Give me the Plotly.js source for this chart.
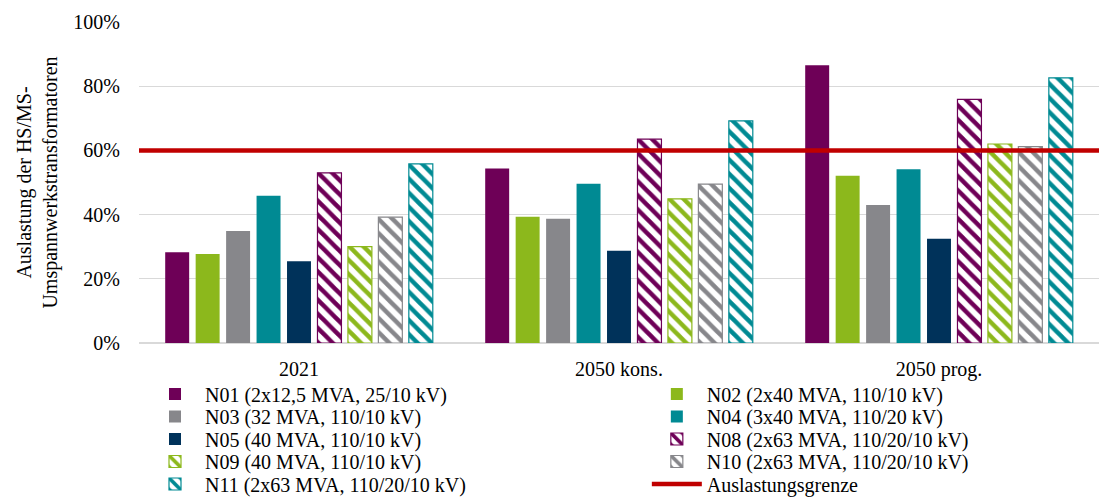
<!DOCTYPE html>
<html>
<head>
<meta charset="utf-8">
<script src="https://cdn.plot.ly/plotly-3.0.1.min.js"></script>
<style>
html,body{margin:0;padding:0;background:#fff;}
#chart{width:1099px;height:497px;}
</style>
</head>
<body>
<div id="chart"></div>
<script>
const categories = ["2021", "2050 kons.", "2050 prog."];
const seriesNames = [
  "N01 (2x12,5 MVA, 25/10 kV)",
  "N02 (2x40 MVA, 110/10 kV)",
  "N03 (32 MVA, 110/10 kV)",
  "N04 (3x40 MVA, 110/20 kV)",
  "N05 (40 MVA, 110/10 kV)",
  "N08 (2x63 MVA, 110/20/10 kV)",
  "N09 (40 MVA, 110/10 kV)",
  "N10 (2x63 MVA, 110/20/10 kV)",
  "N11 (2x63 MVA, 110/20/10 kV)"
];
const N01 = [0.283, 0.544, 0.865];
const N02 = [0.277, 0.393, 0.521];
const N03 = [0.349, 0.387, 0.430];
const N04 = [0.459, 0.496, 0.541];
const N05 = [0.255, 0.287, 0.325];
const N08 = [0.530, 0.635, 0.759];
const N09 = [0.300, 0.449, 0.620];
const N10 = [0.392, 0.495, 0.612];
const N11 = [0.558, 0.692, 0.826];
const seriesValues = [N01, N02, N03, N04, N05, N08, N09, N10, N11];
const limitName = "Auslastungsgrenze";
const limitValue = 0.60;
const yTickVals = [0, 0.2, 0.4, 0.6, 0.8, 1.0];
const yTickText = ["0%", "20%", "40%", "60%", "80%", "100%"];

const colors = ["#6E0057", "#8CB81C", "#87878B", "#008A93", "#00325A", "#6E0057", "#8CB81C", "#87878B", "#008A93"];
const hatched = [false, false, false, false, false, true, true, true, true];

const FONT = "'Liberation Serif', 'Times New Roman', serif";

// legend layout: two columns, five rows (one legend box per entry)
const rowCenters = [394, 416.5, 439, 461.5, 484];
const colX = [0.00625, 0.529];
const H = 497;
const legendIds = [];
for (let i = 0; i < 10; i++) legendIds.push(i === 0 ? "legend" : "legend" + (i + 1));

const traces = seriesNames.map((name, i) => {
  const marker = {color: colors[i], line: {color: colors[i], width: hatched[i] ? 1.2 : 0}};
  if (hatched[i]) {
    marker.pattern = {shape: "\\", fgcolor: colors[i], bgcolor: "#ffffff", size: 10, solidity: 0.45, fillmode: "replace"};
  }
  return {type: "bar", name: name, x: categories, y: seriesValues[i], marker: marker, legend: legendIds[i], hoverinfo: "skip"};
});

traces.push({
  type: "scatter", mode: "lines", name: limitName,
  x: [0, 1], y: [limitValue, limitValue], xaxis: "x2", yaxis: "y",
  line: {color: "#C00000", width: 4.5}, legend: legendIds[9], hoverinfo: "skip"
});

const layout = {
  width: 1099, height: 497,
  margin: {l: 139, r: 0, t: 22, b: 154},
  paper_bgcolor: "#ffffff", plot_bgcolor: "#ffffff",
  font: {family: FONT, color: "#000000", size: 18},
  barmode: "group", bargap: 0.1435, bargroupgap: 0.213,
  showlegend: true,
  xaxis: {
    type: "category", showgrid: false, zeroline: false, showline: false,
    tickfont: {family: FONT, size: 20, color: "#000"}, ticks: "", ticklabelstandoff: 12
  },
  xaxis2: {overlaying: "x", range: [0, 1], visible: false, fixedrange: true},
  yaxis: {
    range: [0, 1], tickvals: yTickVals, ticktext: yTickText,
    showgrid: true, gridcolor: "#D9D9D9", gridwidth: 1.3,
    zeroline: true, zerolinecolor: "#D9D9D9", zerolinewidth: 1.3,
    showline: false, ticks: "", ticklabelstandoff: 18,
    tickfont: {family: FONT, size: 20, color: "#000"},
    title: {text: "Auslastung der HS/MS-<br>Umspannwerkstransformatoren", font: {family: FONT, size: 20, color: "#000"}, standoff: 10}
  }
};

// entry i -> row/column: trace order N01,N02,N03,N04,N05,N08,N09,N10,N11,limit
for (let i = 0; i < 10; i++) {
  const row = Math.floor(i / 2), col = i % 2;
  layout[legendIds[i]] = {
    xref: "paper", yref: "container",
    x: colX[col], y: 1 - rowCenters[row] / H, xanchor: "left", yanchor: "middle",
    orientation: "v", font: {family: FONT, size: 20, color: "#000"},
    bgcolor: "rgba(0,0,0,0)", itemwidth: 50
  };
}

Plotly.newPlot("chart", traces, layout, {displayModeBar: false, staticPlot: true});
</script>
</body>
</html>
